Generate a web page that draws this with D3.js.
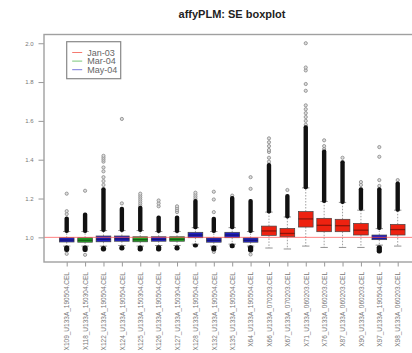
<!DOCTYPE html>
<html>
<head>
<meta charset="utf-8">
<script src="https://cdn.jsdelivr.net/npm/d3@7"></script>
<style>
  body { margin: 0; background: #fff; }
  svg { display: block; font-family: "Liberation Sans", Arial, sans-serif; }
</style>
</head>
<body>
<div id="chart"></div>
<script>
// arrays in the plot, left to right
const arrays = ["X109_U133A_190504.CEL", "X118_U133A_150304.CEL", "X122_U133A_190504.CEL",
  "X124_U133A_190504.CEL", "X125_U133A_150304.CEL", "X126_U133A_190504.CEL",
  "X127_U133A_150304.CEL", "X128_U133A_190504.CEL", "X132_U133A_190504.CEL",
  "X135_U133A_190504.CEL", "X64_U133A_190504.CEL", "X66_U133A_070203.CEL",
  "X67_U133A_070203.CEL", "X71_U133A_060203.CEL", "X76_U133A_060203.CEL",
  "X87_U133A_060203.CEL", "X90_U133A_060203.CEL", "X97_U133A_190504.CEL",
  "X98_U133A_060203.CEL"];
const batch = ["May-04", "Mar-04", "May-04", "May-04", "Mar-04", "May-04", "Mar-04", "May-04",
  "May-04", "May-04", "May-04", "Jan-03", "Jan-03", "Jan-03", "Jan-03", "Jan-03", "Jan-03",
  "May-04", "Jan-03"];
const batches = ["Jan-03", "Mar-04", "May-04"];

// box statistics
const q1s     = [0.976, 0.975, 0.977, 0.980, 0.977, 0.980, 0.980, 0.998, 0.975, 0.998, 0.975, 1.010, 1.003, 1.053, 1.029, 1.029, 1.012, 0.988, 1.012];
const medians = [0.986, 0.985, 0.990, 0.992, 0.988, 0.990, 0.990, 1.012, 0.985, 1.012, 0.985, 1.033, 1.020, 1.095, 1.062, 1.060, 1.037, 0.998, 1.040];
const q3s     = [0.998, 0.998, 1.007, 1.007, 1.003, 1.003, 1.003, 1.026, 0.997, 1.026, 0.997, 1.058, 1.046, 1.133, 1.098, 1.093, 1.072, 1.012, 1.067];
const whiskLo = [0.955, 0.955, 0.955, 0.958, 0.955, 0.958, 0.958, 0.965, 0.955, 0.965, 0.955, 0.945, 0.940, 0.955, 0.948, 0.948, 0.948, 0.960, 0.955];
const whiskHi = [1.030, 1.030, 1.035, 1.035, 1.035, 1.030, 1.030, 1.050, 1.030, 1.050, 1.030, 1.130, 1.105, 1.255, 1.185, 1.180, 1.140, 1.045, 1.140];
// runs of outliers so dense they print as a solid column
const denseUp = [[1.03, 1.10], [1.03, 1.12], [1.035, 1.25], [1.035, 1.15], [1.035, 1.155], [1.03, 1.105],
  [1.03, 1.105], [1.05, 1.19], [1.03, 1.098], [1.05, 1.205], [1.03, 1.19], [1.13, 1.375], [1.105, 1.215],
  [1.255, 1.57], [1.185, 1.445], [1.18, 1.39], [1.145, 1.25], [1.045, 1.25], [1.14, 1.28]];
const denseDown = [[0.932, 0.95], [0.932, 0.95], [0.935, 0.948], [0.94, 0.95], [0.935, 0.95], [0.935, 0.952],
  [0.94, 0.95], [0.955, 0.96], [0.935, 0.95], [0.952, 0.96], [0.93, 0.952], null, null, null, null, null, null,
  [0.925, 0.952], null];
// single outliers
const outliers = [
  [1.12, 1.135, 1.225, 0.915],
  [1.24, 0.91],
  [1.27, 1.29, 1.31, 1.34, 1.36, 1.39, 1.40, 1.41, 1.42],
  [1.175, 1.61],
  [1.165, 1.175, 1.185, 1.195, 1.205, 1.215, 1.225],
  [1.16, 1.175, 1.19],
  [1.13, 1.14, 1.15, 1.16],
  [1.20, 1.21, 1.22, 1.23],
  [1.13, 1.195, 1.235, 0.925],
  [1.215],
  [1.25, 1.31, 0.912],
  [1.39, 1.41, 1.44, 1.45, 1.47, 1.49, 1.51],
  [1.244],
  [1.58, 1.60, 1.62, 1.64, 1.66, 1.68, 1.755, 1.79, 1.86, 1.875, 2.0],
  [1.455, 1.47, 1.50],
  [1.41],
  [1.27, 1.285],
  [1.265, 1.295, 1.415, 1.465],
  [1.295]
];
const yTicks = [1.0, 1.2, 1.4, 1.6, 1.8, 2.0];

const width = 412, height = 353;
const plotLeft = 44, plotRight = 421, plotTop = 34.5, plotBottom = 262;

const svg = d3.select("#chart").append("svg")
  .attr("width", width)
  .attr("height", height);

const color = d3.scaleOrdinal()
  .domain(batches)
  .range(["#ee2210", "#22a022", "#2020c4"]);

// R style axis: positions 1..n with 4% padding on each side
const x = d3.scalePoint()
  .domain(arrays)
  .range([66.7, 397.7]);
const step = x.step();
const boxW = step * 0.8;

const y = d3.scaleLinear()
  .domain([0.873, 2.045])
  .range([plotBottom, plotTop]);

// title
svg.append("text")
  .attr("x", 232)
  .attr("y", 17.5)
  .attr("text-anchor", "middle")
  .attr("font-size", 11)
  .attr("font-weight", "bold")
  .attr("fill", "#222")
  .text("affyPLM: SE boxplot");

// y axis
const yAxis = svg.append("g")
  .attr("transform", "translate(" + plotLeft + ",0)")
  .call(d3.axisLeft(y).tickValues(yTicks).tickFormat(d3.format(".1f")).tickSize(5.5).tickSizeOuter(0));
yAxis.select(".domain").remove();
yAxis.selectAll("line").attr("stroke", "#999");
yAxis.selectAll("text").attr("fill", "#777").attr("font-size", 6).attr("x", -10.5)
  .attr("font-family", "Liberation Sans, Arial, sans-serif");

// x axis
const xAxis = svg.append("g")
  .attr("transform", "translate(0," + plotBottom + ")")
  .call(d3.axisBottom(x).tickSize(4.5).tickSizeOuter(0));
xAxis.select(".domain").remove();
xAxis.selectAll("line").attr("stroke", "#999");
xAxis.selectAll("text")
  .attr("fill", "#777")
  .attr("font-size", 6.5)
  .attr("font-family", "Liberation Sans, Arial, sans-serif")
  .attr("text-anchor", "end")
  .attr("transform", "rotate(-90)")
  .attr("x", -10)
  .attr("y", 0)
  .attr("dy", "0.35em");

// boxes
const boxes = svg.append("g")
  .selectAll("g")
  .data(arrays)
  .join("g")
  .attr("transform", d => "translate(" + x(d) + ",0)");

// whiskers
boxes.append("line")
  .attr("y1", (d, i) => y(q3s[i])).attr("y2", (d, i) => y(whiskHi[i]))
  .attr("stroke", "#888").attr("stroke-width", 0.8).attr("stroke-dasharray", "1.5,1.5");
boxes.append("line")
  .attr("y1", (d, i) => y(q1s[i])).attr("y2", (d, i) => y(whiskLo[i]))
  .attr("stroke", "#888").attr("stroke-width", 0.8).attr("stroke-dasharray", "1.5,1.5");
boxes.append("line")
  .attr("x1", -boxW / 4).attr("x2", boxW / 4)
  .attr("y1", (d, i) => y(whiskLo[i])).attr("y2", (d, i) => y(whiskLo[i]))
  .attr("stroke", "#888").attr("stroke-width", 0.9);
boxes.append("line")
  .attr("x1", -boxW / 4).attr("x2", boxW / 4)
  .attr("y1", (d, i) => y(whiskHi[i])).attr("y2", (d, i) => y(whiskHi[i]))
  .attr("stroke", "#888").attr("stroke-width", 0.9);

// single outliers
boxes.selectAll("circle")
  .data((d, i) => outliers[i])
  .join("circle")
  .attr("cy", v => y(v))
  .attr("r", 1.6)
  .attr("fill", "#ddd")
  .attr("stroke", "#888")
  .attr("stroke-width", 0.8);

// dense outlier columns
boxes.append("rect")
  .attr("x", -2.2).attr("width", 4.4).attr("rx", 2)
  .attr("y", (d, i) => y(denseUp[i][1]) - 1.5)
  .attr("height", (d, i) => y(denseUp[i][0]) - y(denseUp[i][1]) + 3)
  .attr("fill", "#111");
boxes.filter((d, i) => denseDown[i] !== null)
  .append("rect")
  .attr("x", -2.6).attr("width", 5.2).attr("rx", 2.2)
  .attr("y", d => y(denseDown[arrays.indexOf(d)][1]) - 1.5)
  .attr("height", d => { const r = denseDown[arrays.indexOf(d)]; return y(r[0]) - y(r[1]) + 3; })
  .attr("fill", "#111");

// box bodies
boxes.append("rect")
  .attr("x", -boxW / 2).attr("width", boxW)
  .attr("y", (d, i) => y(q3s[i]))
  .attr("height", (d, i) => y(q1s[i]) - y(q3s[i]))
  .attr("fill", (d, i) => color(batch[i]))
  .attr("stroke", "#444").attr("stroke-width", 0.7);
boxes.append("line")
  .attr("x1", -boxW / 2).attr("x2", boxW / 2)
  .attr("y1", (d, i) => y(medians[i])).attr("y2", (d, i) => y(medians[i]))
  .attr("stroke", "#000").attr("stroke-opacity", 0.4).attr("stroke-width", 1.3);

// reference line at 1
svg.append("line")
  .attr("x1", plotLeft).attr("x2", plotRight)
  .attr("y1", y(1)).attr("y2", y(1))
  .attr("stroke", "#f55").attr("stroke-opacity", 0.75).attr("stroke-width", 1);

// plot frame
svg.append("rect")
  .attr("x", plotLeft).attr("y", plotTop)
  .attr("width", plotRight - plotLeft).attr("height", plotBottom - plotTop)
  .attr("fill", "none").attr("stroke", "#a0a0a0").attr("stroke-width", 1.4);

// legend
const legend = svg.append("g").attr("transform", "translate(66.7,41.7)");
legend.append("rect")
  .attr("width", 54).attr("height", 37)
  .attr("fill", "#fff").attr("stroke", "#888").attr("stroke-width", 1.2);
batches.forEach((b, i) => {
  const ly = 10.8 + i * 8.6;
  legend.append("line")
    .attr("x1", 5.5).attr("x2", 15.5).attr("y1", ly).attr("y2", ly)
    .attr("stroke", color(b)).attr("stroke-opacity", 0.6).attr("stroke-width", 1);
  legend.append("text")
    .attr("x", 20.5).attr("y", ly + 3.2)
    .attr("font-size", 9).attr("fill", "#666")
    .text(b);
});
</script>
</body>
</html>
